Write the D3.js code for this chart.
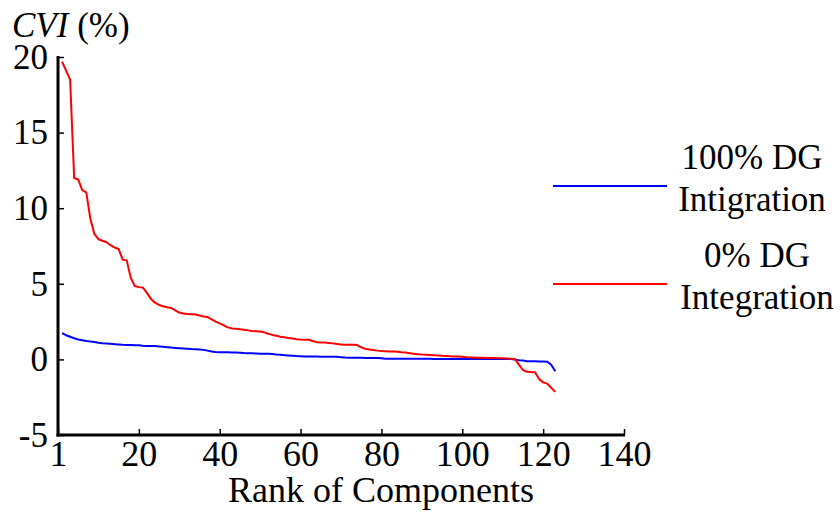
<!DOCTYPE html>
<html>
<head>
<meta charset="utf-8">
<script src="https://cdn.jsdelivr.net/npm/d3@7"></script>
<style>
  html, body { margin: 0; padding: 0; background: #fff; }
  svg { display: block; }
  svg text { font-family: "Liberation Serif", Tinos, "Times New Roman", Times, "DejaVu Serif", serif !important; fill: #000; }
</style>
</head>
<body>
<svg id="chart" width="840" height="512"></svg>
<script>
// ---- data ----
const xTicks = [0, 20, 40, 60, 80, 100, 120, 140];
const xTickLabels = ["1", "20", "40", "60", "80", "100", "120", "140"];
const yTicks = [-5, 0, 5, 10, 15, 20];
const seriesNames = ["100% DG|Intigration", "0% DG|Integration"];

// CVI (%) for 100% DG integration, ranks 1..123
const cvi100 = [
  1.74, 1.60, 1.50, 1.40, 1.32, 1.27, 1.22, 1.18, 1.15, 1.10,
  1.07, 1.05, 1.03, 1.01, 0.99, 0.97, 0.96, 0.95, 0.94, 0.93,
  0.90, 0.89, 0.88, 0.88, 0.86, 0.84, 0.81, 0.78, 0.76, 0.74,
  0.72, 0.70, 0.68, 0.67, 0.65, 0.63, 0.58, 0.52, 0.49, 0.48,
  0.47, 0.47, 0.46, 0.46, 0.44, 0.42, 0.41, 0.40, 0.39, 0.38,
  0.38, 0.37, 0.35, 0.32, 0.30, 0.28, 0.26, 0.24, 0.22, 0.21,
  0.20, 0.20, 0.19, 0.19, 0.18, 0.18, 0.18, 0.18, 0.17, 0.15,
  0.12, 0.11, 0.11, 0.11, 0.11, 0.10, 0.10, 0.10, 0.09, 0.07,
  0.05, 0.05, 0.05, 0.05, 0.05, 0.05, 0.05, 0.05, 0.05, 0.04,
  0.04, 0.04, 0.03, 0.03, 0.03, 0.03, 0.03, 0.03, 0.03, 0.03,
  0.03, 0.03, 0.03, 0.02, 0.02, 0.02, 0.02, 0.02, 0.02, 0.02,
  0.02, 0.02, 0.00, -0.05, -0.08, -0.12, -0.13, -0.13, -0.14, -0.14,
  -0.15, -0.35, -0.78
];

// CVI (%) for 0% DG integration, ranks 1..123
const cvi0 = [
  19.70, 19.10, 18.50, 12.00, 11.90, 11.20, 11.05, 9.30, 8.30, 7.95,
  7.85, 7.75, 7.55, 7.40, 7.30, 6.60, 6.55, 5.40, 4.85, 4.78,
  4.75, 4.40, 4.00, 3.75, 3.60, 3.52, 3.45, 3.40, 3.25, 3.10,
  3.03, 3.00, 2.99, 2.97, 2.90, 2.84, 2.80, 2.65, 2.50, 2.38,
  2.25, 2.12, 2.05, 2.02, 1.99, 1.96, 1.92, 1.88, 1.86, 1.84,
  1.79, 1.70, 1.62, 1.56, 1.50, 1.46, 1.42, 1.38, 1.34, 1.31,
  1.30, 1.30, 1.22, 1.14, 1.12, 1.11, 1.09, 1.06, 1.02, 0.98,
  0.97, 0.97, 0.97, 0.95, 0.80, 0.70, 0.66, 0.62, 0.58, 0.55,
  0.54, 0.53, 0.53, 0.50, 0.47, 0.45, 0.41, 0.37, 0.34, 0.32,
  0.31, 0.29, 0.27, 0.26, 0.24, 0.23, 0.21, 0.20, 0.19, 0.17,
  0.14, 0.13, 0.12, 0.11, 0.11, 0.10, 0.10, 0.09, 0.08, 0.07,
  0.06, 0.05, 0.03, -0.35, -0.70, -0.82, -0.84, -0.85, -1.30, -1.52,
  -1.60, -1.87, -2.15
];

// ---- drawing ----
const svg = d3.select("#chart");
const x = d3.scaleLinear().domain([0, 140]).range([58, 624]);
const y = d3.scaleLinear().domain([-5, 20]).range([435, 57]);
const FS = 35;
const FSX = 36;
const FONT = "Liberation Serif, Tinos, Times New Roman, serif";

// lines
const line = d3.line().x((d, i) => x(i + 1)).y(d => y(d));
svg.append("path").datum(cvi100)
  .attr("fill", "none").attr("stroke", "#0000ff").attr("stroke-width", 2)
  .attr("stroke-linejoin", "round").attr("d", line);
svg.append("path").datum(cvi0)
  .attr("fill", "none").attr("stroke", "#ff0000").attr("stroke-width", 2)
  .attr("stroke-linejoin", "round").attr("d", line);

// y axis
const yAxis = d3.axisLeft(y).tickValues(yTicks).tickSizeInner(-6).tickSizeOuter(0).tickPadding(10)
  .tickFormat(d => String(d));
const gy = svg.append("g").attr("transform", `translate(${x(0)},0)`).call(yAxis)
  .attr("font-family", FONT).attr("font-size", FS);
gy.select(".domain").remove();
gy.selectAll(".tick line").attr("stroke", "#000").attr("stroke-width", 1.5);
gy.selectAll(".tick text").attr("fill", "#000");

// x axis
const xAxis = d3.axisBottom(x).tickValues(xTicks).tickSizeInner(-6).tickSizeOuter(0).tickPadding(5)
  .tickFormat((d, i) => xTickLabels[i]);
const gx = svg.append("g").attr("transform", `translate(0,${y(-5)})`).call(xAxis)
  .attr("font-family", FONT).attr("font-size", FSX);
gx.select(".domain").remove();
gx.selectAll(".tick line").attr("stroke", "#000").attr("stroke-width", 1.5);
gx.selectAll(".tick text").attr("fill", "#000");

// thick axis lines
svg.append("line").attr("x1", x(0)).attr("x2", x(0)).attr("y1", y(20) - 1).attr("y2", y(-5) + 1.5)
  .attr("stroke", "#000").attr("stroke-width", 3);
svg.append("line").attr("x1", x(0) - 1.5).attr("x2", x(140) + 1).attr("y1", y(-5)).attr("y2", y(-5))
  .attr("stroke", "#000").attr("stroke-width", 3);

// y-axis title
const yt = svg.append("text").attr("x", 12).attr("y", 37).attr("font-size", FS);
yt.append("tspan").attr("font-style", "italic").text("CVI");
yt.append("tspan").text(" (%)");

// x-axis title
svg.append("text").attr("x", 381).attr("y", 502).attr("text-anchor", "middle")
  .attr("font-size", FSX).text("Rank of Components");

// legend
const legendColors = ["#0000ff", "#ff0000"];
const legendY = [186, 284];
const legendTextX = [752, 757];
seriesNames.forEach((name, i) => {
  svg.append("line").attr("x1", 553).attr("x2", 667).attr("y1", legendY[i]).attr("y2", legendY[i])
    .attr("stroke", legendColors[i]).attr("stroke-width", 2);
  const parts = name.split("|");
  parts.forEach((p, j) => {
    svg.append("text").attr("x", legendTextX[i]).attr("y", legendY[i] - 17 + j * 42)
      .attr("text-anchor", "middle").attr("font-size", FS).text(p);
  });
});
</script>
</body>
</html>
